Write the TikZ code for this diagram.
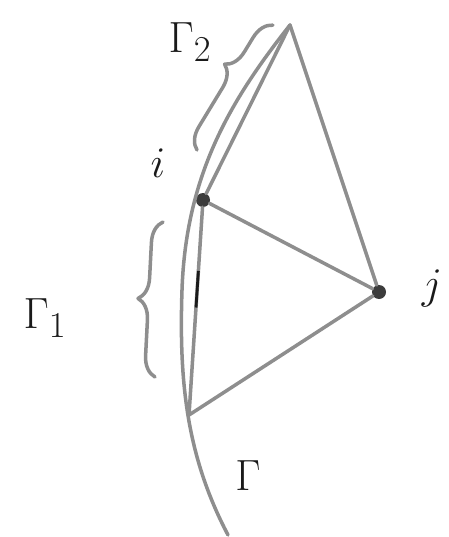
\documentclass[tikz,border=0pt]{standalone}
\usetikzlibrary{calc, decorations.pathreplacing}
\definecolor{pencil}{HTML}{8E8E8E}
\definecolor{ink}{HTML}{1A1A1A}
\tikzset{
  stroke/.style={draw=pencil, line width=2pt, line cap=round, line join=round},
  vertex/.style={circle, fill=ink!85, inner sep=0pt, minimum size=0.28cm},
  lbl/.style={text=ink, font=\fontsize{32}{34}\selectfont},
  curly/.style={stroke, decorate, decoration={brace, amplitude=0.42cm, aspect=#1}}
}
\begin{document}
\begin{tikzpicture}[x=0.02cm, y=-0.02cm]
  \useasboundingbox (0,0) rectangle (449,537);
  % points of the curve and the triangle
  \coordinate (t) at (290,25);
  \coordinate (b) at (189,415);
  \coordinate (e) at (228,535);
  \node[vertex] (i) at (203,200) {};
  \node[vertex] (j) at (379,292) {};
  % the curve Gamma
  \draw[stroke] (t) .. controls (235,95) and (186,170) .. (182,290)
                    .. controls (179,380) and (186,455) .. (e);
  \draw[stroke] (t) -- (i);
  \draw[stroke] (i) -- (b);
  \draw[draw=ink, line width=1.6pt] ($(i)!0.33!(b)$) -- ($(i)!0.5!(b)$);
  % triangle edges
  \draw[stroke] (t) -- (j);
  \draw[stroke] (i) -- (j);
  \draw[stroke] (b) -- (j);
  % braces
  \coordinate (g2a) at (197,150);
  \coordinate (g2b) at (273,25);
  \coordinate (g1a) at (155,377);
  \coordinate (g1b) at (163,222);
  \draw[curly=0.6] (g2a) -- (g2b);
  \draw[curly=0.5] (g1a) -- (g1b);
  % labels
  \node[lbl] (lg2) at (190,42) {$\Gamma_2$};
  \node[lbl] (lg1) at (45,318) {$\Gamma_1$};
  \node[lbl] (lg) at (248,476) {$\Gamma$};
  \node[lbl] (li) at (158,163) {$i$};
  \node[lbl] (lj) at (432,288) {$j$};
\end{tikzpicture}
\end{document}
